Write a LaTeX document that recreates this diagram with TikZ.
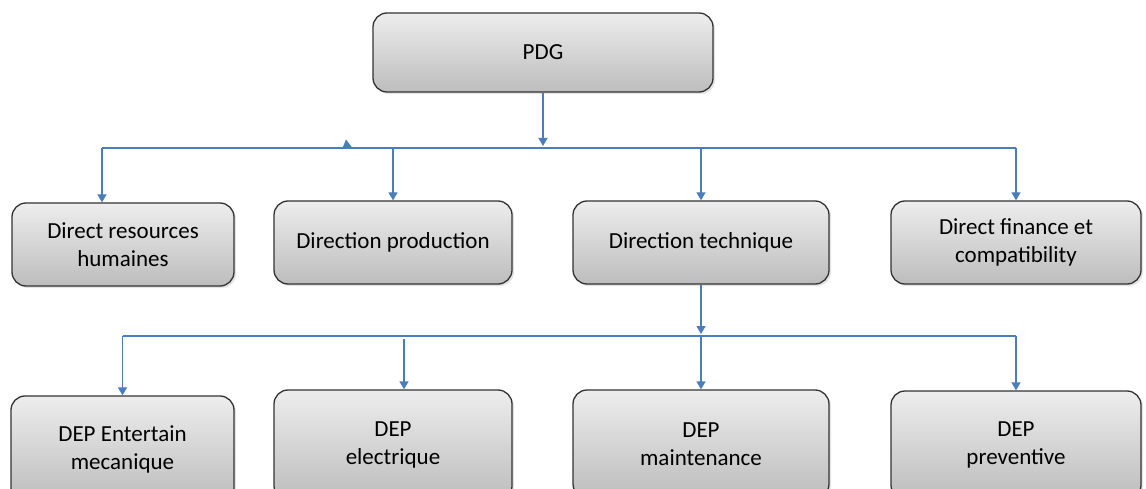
\documentclass[tikz,border=0pt]{standalone}
\usepackage{fontspec}
\setmainfont{Carlito}
\usetikzlibrary{arrows.meta,shadows}
\definecolor{linkblue}{HTML}{4A7EBB}
\definecolor{boxline}{HTML}{333333}
\begin{document}
\begin{tikzpicture}[x=1pt,y=-1pt,
  orgbox/.style={draw=boxline, line width=1.3pt, rounded corners=14pt,
    top color=black!7, bottom color=black!26,
    drop shadow={shadow xshift=2pt,shadow yshift=-2pt,opacity=0.22},
    align=center, inner sep=0pt,
    font=\fontsize{23}{28}\selectfont},
  link/.style={draw=linkblue, line width=1.3pt},
  linkarrow/.style={link, -{Triangle[width=9pt,length=8pt]}}
]
\useasboundingbox (0,0) rectangle (1146,489);

% top of the chart
\node[orgbox, minimum width=340pt, minimum height=79pt] (pdg) at (543,52.5) {PDG};

% directions
\node[orgbox, minimum width=222pt, minimum height=83pt] (d1) at (123,244.5) {Direct resources\\humaines};
\node[orgbox, minimum width=238pt, minimum height=83pt] (d2) at (393,242.5) {Direction production};
\node[orgbox, minimum width=256pt, minimum height=83pt] (d3) at (701,242.5) {Direction technique};
\node[orgbox, minimum width=250pt, minimum height=83pt] (d4) at (1016,242.5) {Direct finance et\\compatibility};

% departments under the technical direction
\node[orgbox, minimum width=223pt, minimum height=106pt] (e1) at (122.5,449) {DEP Entertain\\mecanique};
\node[orgbox, minimum width=238pt, minimum height=110pt] (e2) at (393,445) {DEP\\electrique};
\node[orgbox, minimum width=256pt, minimum height=108pt] (e3) at (701,444) {DEP\\maintenance};
\node[orgbox, minimum width=250pt, minimum height=108pt] (e4) at (1016,445) {DEP\\preventive};

% first distribution bus
\coordinate (busA) at (0,148);
\coordinate (a1) at (102,148);
\draw[link] (a1) -- (d4.north |- busA);
\draw[linkarrow, shorten >=2pt] (pdg.south) -- (pdg.south |- busA);
\draw[linkarrow] (a1) -- (a1 |- d1.north);
\draw[linkarrow] (d2.north |- busA) -- (d2.north);
\draw[linkarrow] (d3.north |- busA) -- (d3.north);
\draw[linkarrow] (d4.north |- busA) -- (d4.north);
\fill[linkblue] (342.5,148) -- (346,139.5) -- (352.5,148) -- cycle;

% second distribution bus
\coordinate (busB) at (0,336);
\coordinate (b2) at (404,339);
\draw[link] (e1.north |- busB) -- (e4.north |- busB);
\draw[linkarrow, shorten >=2pt] (d3.south) -- (d3.south |- busB);
\draw[linkarrow] (d3.south |- busB) -- (e3.north);
\draw[linkarrow] (e1.north |- busB) -- (e1.north);
\draw[linkarrow] (b2) -- (b2 |- e2.north);
\draw[linkarrow] (e4.north |- busB) -- (e4.north);
\end{tikzpicture}
\end{document}
